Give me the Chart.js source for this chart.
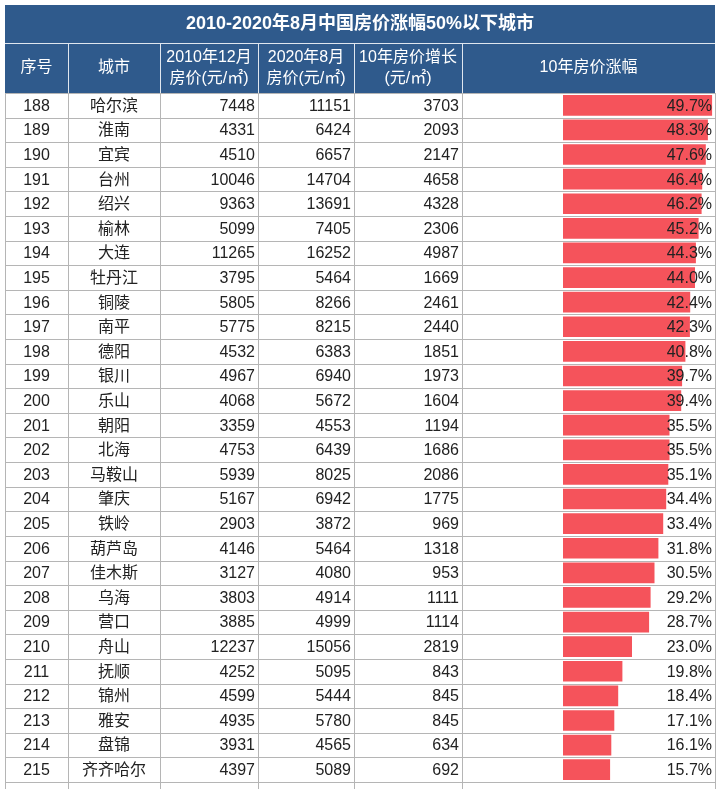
<!DOCTYPE html>
<html><head><meta charset="utf-8">
<script src="https://cdn.jsdelivr.net/npm/chart.js@4"></script>
<style>body{margin:0;background:#fff}#c{display:block}</style>
</head><body>
<canvas id="c" width="720" height="789"></canvas>
<script>
const titleText = '2010-2020年8月中国房价涨幅50%以下城市'
const headers = [['序号'], ['城市'], ['2010年12月', '房价(元/㎡)'], ['2020年8月', '房价(元/㎡)'], ['10年房价增长', '(元/㎡)'], ['10年房价涨幅']]
const ranks = [188,189,190,191,192,193,194,195,196,197,198,199,200,201,202,203,204,205,206,207,208,209,210,211,212,213,214,215]
const cities = ['哈尔滨','淮南','宜宾','台州','绍兴','榆林','大连','牡丹江','铜陵','南平','德阳','银川','乐山','朝阳','北海','马鞍山','肇庆','铁岭','葫芦岛','佳木斯','乌海','营口','舟山','抚顺','锦州','雅安','盘锦','齐齐哈尔']
const price2010 = [7448,4331,4510,10046,9363,5099,11265,3795,5805,5775,4532,4967,4068,3359,4753,5939,5167,2903,4146,3127,3803,3885,12237,4252,4599,4935,3931,4397]
const price2020 = [11151,6424,6657,14704,13691,7405,16252,5464,8266,8215,6383,6940,5672,4553,6439,8025,6942,3872,5464,4080,4914,4999,15056,5095,5444,5780,4565,5089]
const growth = [3703,2093,2147,4658,4328,2306,4987,1669,2461,2440,1851,1973,1604,1194,1686,2086,1775,969,1318,953,1111,1114,2819,843,845,845,634,692]
const pct = [49.7,48.3,47.6,46.4,46.2,45.2,44.3,44.0,42.4,42.3,40.8,39.7,39.4,35.5,35.5,35.1,34.4,33.4,31.8,30.5,29.2,28.7,23.0,19.8,18.4,17.1,16.1,15.7]

const colX = [5, 68, 160, 258, 354, 462, 715]
const font = '"Liberation Sans", "Noto Sans CJK SC", sans-serif'

const tablePlugin = {
    id: 'table',
    beforeDatasetsDraw(chart) {
        const ctx = chart.ctx, y = chart.scales.y
        const step = Math.abs(y.getPixelForValue(1) - y.getPixelForValue(0))
        const top = chart.chartArea.top
        ctx.save()
        // cabecera
        ctx.fillStyle = '#2f5a8c'
        ctx.fillRect(colX[0], 5, colX[6] - colX[0], top - 5)
        ctx.fillStyle = '#fff'
        ctx.font = 'bold 18px ' + font
        ctx.textAlign = 'center'; ctx.textBaseline = 'middle'
        ctx.fillText(titleText, 360, 24)
        ctx.strokeStyle = '#dfe6ef'; ctx.lineWidth = 1
        ctx.beginPath(); ctx.moveTo(colX[0], 43.5); ctx.lineTo(colX[6], 43.5); ctx.stroke()
        ctx.font = '16px ' + font
        headers.forEach((h, i) => {
            const cx = (colX[i] + colX[i + 1]) / 2
            if (i > 0) { ctx.beginPath(); ctx.moveTo(colX[i] + 0.5, 44); ctx.lineTo(colX[i] + 0.5, top); ctx.stroke() }
            if (h.length === 1) ctx.fillText(h[0], cx, 68)
            else { ctx.fillText(h[0], cx, 58); ctx.fillText(h[1], cx, 79) }
        })
        // filas
        ctx.strokeStyle = '#b5b5b5'
        for (let i = 0; i <= ranks.length + 1; i++) {
            const yy = Math.round(top + i * step) + 0.5
            ctx.beginPath(); ctx.moveTo(colX[0], yy); ctx.lineTo(colX[6], yy); ctx.stroke()
        }
        for (let i = 0; i < colX.length; i++) {
            ctx.beginPath(); ctx.moveTo(colX[i] + 0.5, top); ctx.lineTo(colX[i] + 0.5, 789); ctx.stroke()
        }
        ctx.fillStyle = '#222'
        ctx.font = '16px ' + font
        ranks.forEach((r, i) => {
            const yy = y.getPixelForValue(i) + 1
            ctx.textAlign = 'center'
            ctx.fillText(r, (colX[0] + colX[1]) / 2, yy)
            ctx.fillText(cities[i], (colX[1] + colX[2]) / 2, yy)
            ctx.textAlign = 'right'
            ctx.fillText(price2010[i], colX[3] - 3, yy)
            ctx.fillText(price2020[i], colX[4] - 3, yy)
            ctx.fillText(growth[i], colX[5] - 3, yy)
        })
        ctx.restore()
    },
    afterDatasetsDraw(chart) {
        const ctx = chart.ctx, y = chart.scales.y
        ctx.save()
        ctx.fillStyle = '#222'; ctx.font = '16px ' + font
        ctx.textAlign = 'right'; ctx.textBaseline = 'middle'
        pct.forEach((v, i) => ctx.fillText(v.toFixed(1) + '%', 712, y.getPixelForValue(i) + 1))
        ctx.restore()
    }
}

new Chart(document.getElementById('c'), {
    type: 'bar',
    data: { labels: ranks.map(String), datasets: [{ data: pct, backgroundColor: '#f5535b', barPercentage: 0.84, categoryPercentage: 1 }] },
    options: {
        indexAxis: 'y', responsive: false, animation: false,
        layout: { padding: { left: 563, right: 7, top: 93, bottom: 7 } },
        plugins: { legend: { display: false }, tooltip: { enabled: false } },
        scales: {
            x: { min: 0, max: 50, display: false },
            y: { display: false, offset: true }
        }
    },
    plugins: [tablePlugin]
})
</script>
</body></html>
